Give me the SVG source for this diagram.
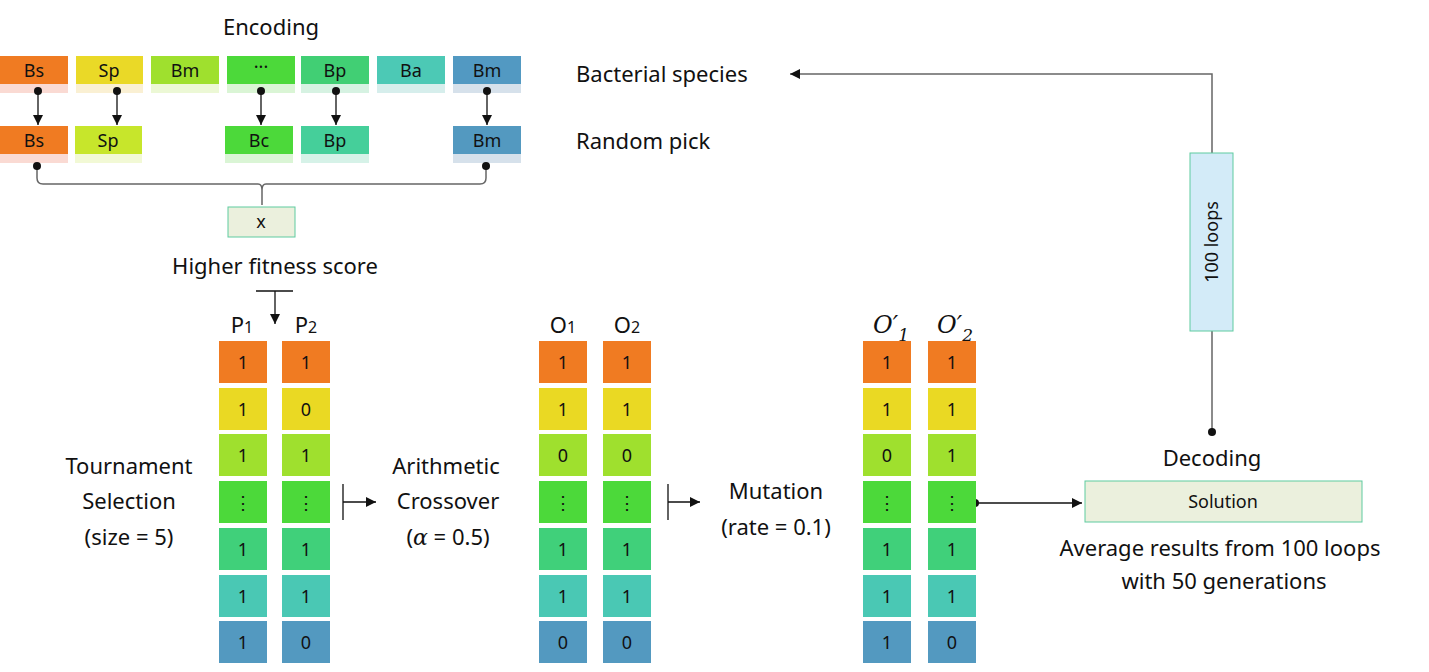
<svg xmlns="http://www.w3.org/2000/svg" width="1429" height="672" viewBox="0 0 1429 672">
<style>
text{font-family:"Noto Sans","Open Sans",sans-serif;fill:#111}
.c{font-size:18px;text-anchor:middle}
.l{font-size:22px;text-anchor:middle}
.m{font-family:"DejaVu Serif","Liberation Serif",serif;font-style:italic;font-size:24px}
.ln{stroke:#111;stroke-width:1.3;fill:none}
</style>
<defs>
<marker id="a" viewBox="0 0 10 10" refX="10" refY="5" markerWidth="10" markerHeight="10" markerUnits="userSpaceOnUse" orient="auto"><path d="M0,0L10,5L0,10z" fill="#111"/></marker>
<marker id="d" viewBox="0 0 10 10" refX="5" refY="5" markerWidth="8" markerHeight="8" markerUnits="userSpaceOnUse"><circle cx="5" cy="5" r="5" fill="#111"/></marker>
</defs>
<text class="l" x="271" y="35">Encoding</text>
<g id="top">
<rect x="0" y="56" width="68" height="28" fill="#F07B22"/><rect x="0" y="84" width="68" height="9" fill="#FADAD3"/><text class="c" x="34" y="77">Bs</text>
<rect x="76" y="56" width="67" height="28" fill="#EAD927"/><rect x="76" y="84" width="67" height="9" fill="#FAF0D3"/><text class="c" x="109" y="77">Sp</text>
<rect x="151" y="56" width="68" height="28" fill="#9FE02E"/><rect x="151" y="84" width="68" height="9" fill="#ECF8D5"/><text class="c" x="185" y="77">Bm</text>
<rect x="227" y="56" width="68" height="28" fill="#4CD93A"/><rect x="227" y="84" width="68" height="9" fill="#DAF5D5"/><text class="c" x="261" y="73">···</text>
<rect x="301" y="56" width="68" height="28" fill="#41CF74"/><rect x="301" y="84" width="68" height="9" fill="#D6F2E2"/><text class="c" x="335" y="77">Bp</text>
<rect x="377" y="56" width="68" height="28" fill="#4CC9B5"/><rect x="377" y="84" width="68" height="9" fill="#D6EEEC"/><text class="c" x="411" y="77">Ba</text>
<rect x="453" y="56" width="68" height="28" fill="#5299C2"/><rect x="453" y="84" width="68" height="9" fill="#D6E1EB"/><text class="c" x="487" y="77">Bm</text>
</g>
<text class="l" x="576" y="82" style="text-anchor:start">Bacterial species</text>
<g id="pick">
<rect x="0" y="126" width="68" height="28" fill="#F07B22"/><rect x="0" y="154" width="68" height="9" fill="#FADAD3"/><text class="c" x="34" y="147">Bs</text>
<rect x="75" y="126" width="67" height="28" fill="#C7E62B"/><rect x="75" y="154" width="67" height="9" fill="#F2F9D5"/><text class="c" x="108" y="147">Sp</text>
<rect x="225" y="126" width="68" height="28" fill="#4CD93A"/><rect x="225" y="154" width="68" height="9" fill="#DAF5D5"/><text class="c" x="259" y="147">Bc</text>
<rect x="301" y="126" width="68" height="28" fill="#45CF9A"/><rect x="301" y="154" width="68" height="9" fill="#D6F2E8"/><text class="c" x="335" y="147">Bp</text>
<rect x="453" y="126" width="68" height="28" fill="#5399C0"/><rect x="453" y="154" width="68" height="9" fill="#D6E1EB"/><text class="c" x="487" y="147">Bm</text>
</g>
<text class="l" x="576" y="149" style="text-anchor:start">Random pick</text>
<g id="x"><rect x="228" y="207" width="67" height="30" fill="#EBF0DD" stroke="#5ECBA0"/><text class="c" x="261" y="228">x</text></g>
<text class="l" x="275" y="274">Higher fitness score</text>
<g id="connectors">
<path class="ln" d="M38,91V125" marker-start="url(#d)" marker-end="url(#a)"/>
<path class="ln" d="M117,91V125" marker-start="url(#d)" marker-end="url(#a)"/>
<path class="ln" d="M261,91V125" marker-start="url(#d)" marker-end="url(#a)"/>
<path class="ln" d="M336,91V125" marker-start="url(#d)" marker-end="url(#a)"/>
<path class="ln" d="M487,91V125" marker-start="url(#d)" marker-end="url(#a)"/>
<path d="M37,166V178Q37,184 43,184H258Q262,184 262,190V205M262,190Q262,184 266,184H480Q486,184 486,178V166" stroke="#666" stroke-width="1.5" fill="none"/>
<circle cx="37" cy="166" r="4" fill="#111"/><circle cx="486" cy="166" r="4" fill="#111"/>
<path class="ln" d="M256,291H293M275,291V324" marker-end="url(#a)"/>
<path class="ln" d="M343,484V520M343,502H376" marker-end="url(#a)"/>
<path class="ln" d="M668,484V520M668,502H700" marker-end="url(#a)"/>
<path class="ln" d="M975,503H1082" marker-start="url(#d)" marker-end="url(#a)"/>
<path d="M1212,432V74H790" stroke="#666" stroke-width="1.5" fill="none" marker-start="url(#d)" marker-end="url(#a)"/>
</g>
<g id="loops"><rect x="1190" y="153" width="43" height="178" fill="#D3EBF8" stroke="#5ECBA0"/><text class="c" transform="translate(1218,242) rotate(-90)">100 loops</text></g>
<g id="cols">
<text class="l" x="242" y="333">P<tspan font-size="16">1</tspan></text>
<text class="l" x="306" y="333">P<tspan font-size="16">2</tspan></text>
<text class="l" x="563" y="333">O<tspan font-size="16">1</tspan></text>
<text class="l" x="627" y="333">O<tspan font-size="16">2</tspan></text>
<text class="m" x="873" y="333">O′<tspan font-size="17" dy="8">1</tspan></text>
<text class="m" x="937" y="333">O′<tspan font-size="17" dy="8">2</tspan></text>
</g>
<g id="cells" class="c">
<g fill="#F07B22"><rect x="219" y="341" width="48" height="42"/><rect x="282" y="341" width="48" height="42"/><rect x="539" y="341" width="48" height="42"/><rect x="603" y="341" width="48" height="42"/><rect x="863" y="341" width="48" height="42"/><rect x="928" y="341" width="48" height="42"/></g>
<g fill="#EAD923"><rect x="219" y="388" width="48" height="42"/><rect x="282" y="388" width="48" height="42"/><rect x="539" y="388" width="48" height="42"/><rect x="603" y="388" width="48" height="42"/><rect x="863" y="388" width="48" height="42"/><rect x="928" y="388" width="48" height="42"/></g>
<g fill="#9FE02E"><rect x="219" y="434" width="48" height="42"/><rect x="282" y="434" width="48" height="42"/><rect x="539" y="434" width="48" height="42"/><rect x="603" y="434" width="48" height="42"/><rect x="863" y="434" width="48" height="42"/><rect x="928" y="434" width="48" height="42"/></g>
<g fill="#4CD93A"><rect x="219" y="481" width="48" height="42"/><rect x="282" y="481" width="48" height="42"/><rect x="539" y="481" width="48" height="42"/><rect x="603" y="481" width="48" height="42"/><rect x="863" y="481" width="48" height="42"/><rect x="928" y="481" width="48" height="42"/></g>
<g fill="#40D07A"><rect x="219" y="528" width="48" height="42"/><rect x="282" y="528" width="48" height="42"/><rect x="539" y="528" width="48" height="42"/><rect x="603" y="528" width="48" height="42"/><rect x="863" y="528" width="48" height="42"/><rect x="928" y="528" width="48" height="42"/></g>
<g fill="#4AC8B4"><rect x="219" y="575" width="48" height="42"/><rect x="282" y="575" width="48" height="42"/><rect x="539" y="575" width="48" height="42"/><rect x="603" y="575" width="48" height="42"/><rect x="863" y="575" width="48" height="42"/><rect x="928" y="575" width="48" height="42"/></g>
<g fill="#5399C0"><rect x="219" y="621" width="48" height="42"/><rect x="282" y="621" width="48" height="42"/><rect x="539" y="621" width="48" height="42"/><rect x="603" y="621" width="48" height="42"/><rect x="863" y="621" width="48" height="42"/><rect x="928" y="621" width="48" height="42"/></g>
<text x="243" y="369">1</text><text x="306" y="369">1</text><text x="563" y="369">1</text><text x="627" y="369">1</text><text x="887" y="369">1</text><text x="952" y="369">1</text>
<text x="243" y="416">1</text><text x="306" y="416">0</text><text x="563" y="416">1</text><text x="627" y="416">1</text><text x="887" y="416">1</text><text x="952" y="416">1</text>
<text x="243" y="462">1</text><text x="306" y="462">1</text><text x="563" y="462">0</text><text x="627" y="462">0</text><text x="887" y="462">0</text><text x="952" y="462">1</text>
<text x="243" y="509">⋮</text><text x="306" y="509">⋮</text><text x="563" y="509">⋮</text><text x="627" y="509">⋮</text><text x="887" y="509">⋮</text><text x="952" y="509">⋮</text>
<text x="243" y="556">1</text><text x="306" y="556">1</text><text x="563" y="556">1</text><text x="627" y="556">1</text><text x="887" y="556">1</text><text x="952" y="556">1</text>
<text x="243" y="603">1</text><text x="306" y="603">1</text><text x="563" y="603">1</text><text x="627" y="603">1</text><text x="887" y="603">1</text><text x="952" y="603">1</text>
<text x="243" y="649">1</text><text x="306" y="649">0</text><text x="563" y="649">0</text><text x="627" y="649">0</text><text x="887" y="649">1</text><text x="952" y="649">0</text>
</g>
<text class="l" x="129" y="474">Tournament</text>
<text class="l" x="129" y="509">Selection</text>
<text class="l" x="129" y="545">(size = 5)</text>
<text class="l" x="446" y="474">Arithmetic</text>
<text class="l" x="448" y="509">Crossover</text>
<text class="l" x="448" y="545">(<tspan font-family="DejaVu Serif,serif" font-style="italic">α</tspan> = 0.5)</text>
<text class="l" x="776" y="499">Mutation</text>
<text class="l" x="776" y="535">(rate = 0.1)</text>
<text class="l" x="1212" y="466">Decoding</text>
<g id="solution"><rect x="1085" y="481" width="277" height="41" fill="#EBF0DD" stroke="#5ECBA0"/><text class="c" x="1223" y="508">Solution</text></g>
<text class="l" x="1220" y="556">Average results from 100 loops</text>
<text class="l" x="1224" y="589">with 50 generations</text>
</svg>
